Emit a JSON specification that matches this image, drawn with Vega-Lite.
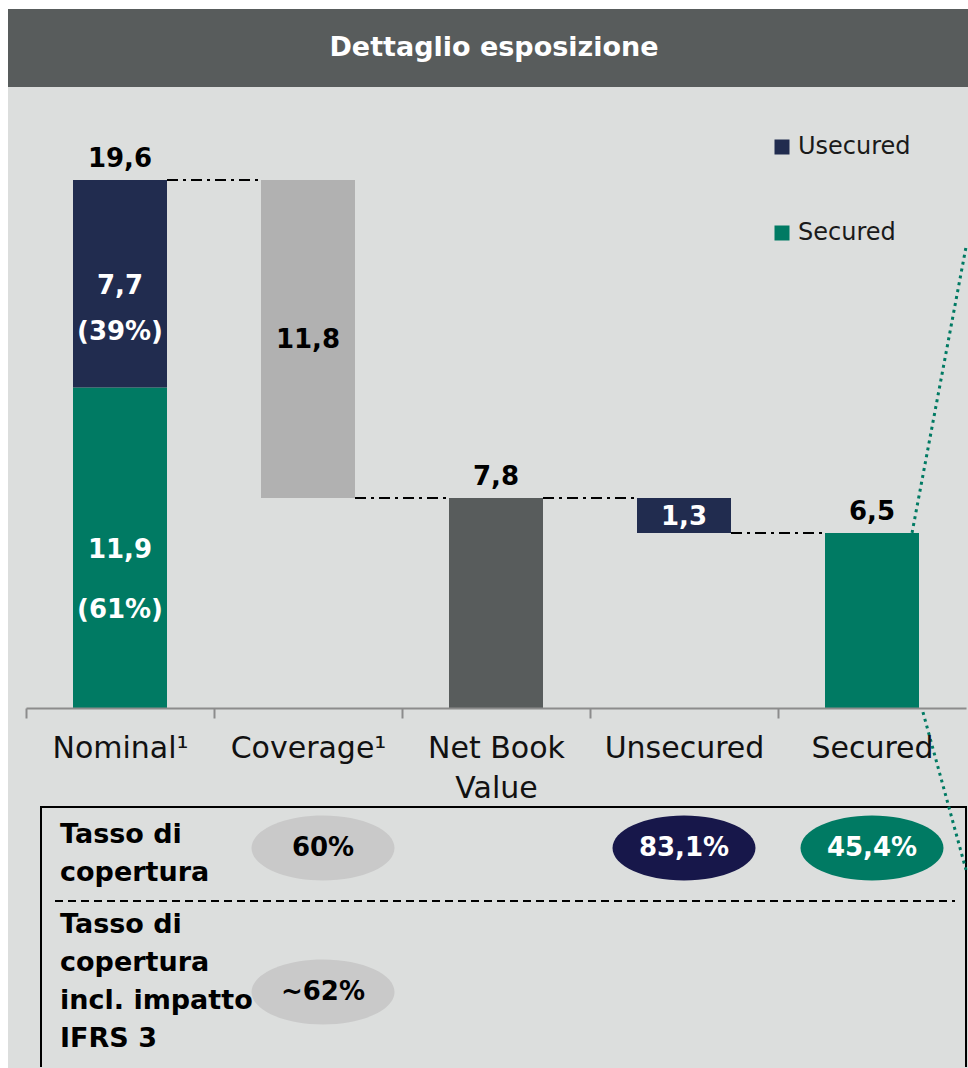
{
  "$schema": "https://vega.github.io/schema/vega-lite/v6.json",
  "background": "white",
  "padding": {"left": 8, "top": 9, "right": 0, "bottom": 0},
  "spacing": 0,
  "config": {"view": {"stroke": null}, "font": "DejaVu Sans"},
  "datasets": {
    "bars": [
      {"cat": "Nominal", "part": "Secured", "start": 0, "end": 11.9},
      {"cat": "Nominal", "part": "Unsecured", "start": 11.9, "end": 19.6},
      {"cat": "Coverage", "part": "Coverage", "start": 7.8, "end": 19.6},
      {"cat": "Net Book Value", "part": "Net Book Value", "start": 0, "end": 7.8},
      {"cat": "Unsecured", "part": "Unsecured", "start": 6.5, "end": 7.8},
      {"cat": "Secured", "part": "Secured", "start": 0, "end": 6.5}
    ],
    "totals": [
      {"cat": "Nominal", "total": 19.6, "text": "19,6"},
      {"cat": "Net Book Value", "total": 7.8, "text": "7,8"},
      {"cat": "Secured", "total": 6.5, "text": "6,5"}
    ],
    "inside": [
      {"cat": "Nominal", "part": "Unsecured", "at": 15.66, "text": "7,7"},
      {"cat": "Nominal", "part": "Unsecured", "at": 13.96, "text": "(39%)"},
      {"cat": "Nominal", "part": "Secured", "at": 5.86, "text": "11,9"},
      {"cat": "Nominal", "part": "Secured", "at": 3.64, "text": "(61%)"},
      {"cat": "Coverage", "part": "Coverage", "at": 13.66, "text": "11,8"},
      {"cat": "Unsecured", "part": "Unsecured", "at": 7.09, "text": "1,3"}
    ],
    "connectors": [
      {"from": "Nominal", "to": "Coverage", "level": 19.6},
      {"from": "Coverage", "to": "Net Book Value", "level": 7.8},
      {"from": "Net Book Value", "to": "Unsecured", "level": 7.8},
      {"from": "Unsecured", "to": "Secured", "level": 6.5}
    ],
    "rates": [
      {"row": "Tasso di copertura", "cat": "Coverage", "rate": "60%"},
      {"row": "Tasso di copertura", "cat": "Unsecured", "rate": "83,1%"},
      {"row": "Tasso di copertura", "cat": "Secured", "rate": "45,4%"},
      {"row": "Tasso di copertura incl. impatto IFRS 3", "cat": "Coverage", "rate": "~62%"}
    ],
    "rowLabels": [
      {"row": "Tasso di copertura", "label": "Tasso di\ncopertura"},
      {"row": "Tasso di copertura incl. impatto IFRS 3", "label": "Tasso di\ncopertura\nincl. impatto\nIFRS 3"}
    ]
  },
  "vconcat": [
    {
      "width": 960,
      "height": 78,
      "view": {"fill": "#585C5C", "stroke": null},
      "data": {"values": [{"heading": "Dettaglio esposizione"}]},
      "mark": {"type": "text", "font": "DejaVu Sans", "fontWeight": "bold", "fontSize": 27, "color": "white", "dx": 6, "align": "center", "baseline": "middle"},
      "encoding": {"text": {"field": "heading"}}
    },
    {
      "width": 960,
      "height": 621,
      "view": {"fill": "#DCDEDD", "stroke": null},
      "resolve": {"scale": {"y": "independent", "color": "independent"}},
      "layer": [
        {
          "layer": [
            {
              "data": {"values": [{"area": "below axis"}]},
              "mark": {"type": "rect", "fill": "#DCDEDD", "strokeWidth": 0, "xOffset": -18, "x2Offset": 2, "yOffset": -140, "y2Offset": 76},
              "encoding": {
                "x": {"datum": "Nominal", "bandPosition": 0},
                "x2": {"datum": "Secured", "bandPosition": 1},
                "y": {
                  "datum": "Tasso di copertura", "type": "nominal",
                  "scale": {"type": "point", "domain": ["Tasso di copertura", "Tasso di copertura incl. impatto IFRS 3"], "range": [761, 905], "padding": 0},
                  "axis": null
                },
                "y2": {"datum": "Tasso di copertura incl. impatto IFRS 3"}
              }
            },
            {
              "data": {"values": [{"edge": "top"}]},
              "mark": {"type": "rule", "color": "black", "strokeWidth": 2, "xOffset": 15, "yOffset": -41},
              "encoding": {
                "x": {"datum": "Nominal", "bandPosition": 0},
                "x2": {"datum": "Secured", "bandPosition": 1},
                "y": {"datum": "Tasso di copertura", "type": "nominal", "axis": null}
              }
            },
            {
              "data": {"values": [{"edge": "left"}]},
              "mark": {"type": "rule", "color": "black", "strokeWidth": 2, "xOffset": 15, "yOffset": -42, "y2Offset": 75},
              "encoding": {
                "x": {"datum": "Nominal", "bandPosition": 0},
                "y": {"datum": "Tasso di copertura", "type": "nominal", "axis": null},
                "y2": {"datum": "Tasso di copertura incl. impatto IFRS 3"}
              }
            },
            {
              "data": {"values": [{"edge": "right"}]},
              "mark": {"type": "rule", "color": "black", "strokeWidth": 2, "yOffset": -42, "y2Offset": 75},
              "encoding": {
                "x": {"datum": "Secured", "bandPosition": 1},
                "y": {"datum": "Tasso di copertura", "type": "nominal", "axis": null},
                "y2": {"datum": "Tasso di copertura incl. impatto IFRS 3"}
              }
            },
            {
              "data": {"values": [{"separator": "rows"}]},
              "mark": {"type": "rule", "color": "black", "strokeWidth": 2, "strokeDash": [8, 5], "xOffset": 29, "x2Offset": -11, "yOffset": 53},
              "encoding": {
                "x": {"datum": "Nominal", "bandPosition": 0},
                "x2": {"datum": "Secured", "bandPosition": 1},
                "y": {"datum": "Tasso di copertura", "type": "nominal", "axis": null}
              }
            },
            {
              "data": {"name": "rates"},
              "transform": [{"filter": "datum.cat == 'Coverage'"}],
              "mark": {"type": "point", "shape": "M-1,0C-1,-0.251,-0.5523,-0.4545,0,-0.4545C0.5523,-0.4545,1,-0.251,1,0C1,0.251,0.5523,0.4545,0,0.4545C-0.5523,0.4545,-1,0.251,-1,0Z", "size": 20449, "filled": true, "opacity": 1, "strokeWidth": 0, "xOffset": 15},
              "encoding": {
                "x": {"field": "cat", "type": "nominal"},
                "y": {"field": "row", "type": "nominal", "axis": null},
                "color": {"field": "cat", "type": "nominal", "scale": {"domain": ["Coverage", "Unsecured", "Secured"], "range": ["#C9C9C9", "#17174A", "#007A63"]}, "legend": null}
              }
            },
            {
              "data": {"name": "rates"},
              "transform": [{"filter": "datum.cat != 'Coverage'"}],
              "mark": {"type": "point", "shape": "M-1,0C-1,-0.251,-0.5523,-0.4545,0,-0.4545C0.5523,-0.4545,1,-0.251,1,0C1,0.251,0.5523,0.4545,0,0.4545C-0.5523,0.4545,-1,0.251,-1,0Z", "size": 20449, "filled": true, "opacity": 1, "strokeWidth": 0},
              "encoding": {
                "x": {"field": "cat", "type": "nominal"},
                "y": {"field": "row", "type": "nominal", "axis": null},
                "color": {"field": "cat", "type": "nominal", "legend": null}
              }
            },
            {
              "data": {"name": "rates"},
              "transform": [{"filter": "datum.cat == 'Coverage'"}],
              "mark": {"type": "text", "font": "DejaVu Sans", "fontWeight": "bold", "fontSize": 26, "color": "black", "baseline": "middle", "xOffset": 15},
              "encoding": {
                "x": {"field": "cat", "type": "nominal"},
                "y": {"field": "row", "type": "nominal", "axis": null},
                "text": {"field": "rate"}
              }
            },
            {
              "data": {"name": "rates"},
              "transform": [{"filter": "datum.cat != 'Coverage'"}],
              "mark": {"type": "text", "font": "DejaVu Sans", "fontWeight": "bold", "fontSize": 26, "color": "white", "baseline": "middle"},
              "encoding": {
                "x": {"field": "cat", "type": "nominal"},
                "y": {"field": "row", "type": "nominal", "axis": null},
                "text": {"field": "rate"}
              }
            },
            {
              "data": {"name": "rowLabels"},
              "transform": [{"filter": "datum.row == 'Tasso di copertura'"}],
              "mark": {"type": "text", "font": "DejaVu Sans", "fontWeight": "bold", "fontSize": 27, "color": "black", "align": "left", "baseline": "middle", "lineBreak": "\n", "lineHeight": 38, "xOffset": 34, "dy": -13},
              "encoding": {
                "x": {"datum": "Nominal", "bandPosition": 0},
                "y": {"field": "row", "type": "nominal", "axis": null},
                "text": {"field": "label"}
              }
            },
            {
              "data": {"name": "rowLabels"},
              "transform": [{"filter": "datum.row != 'Tasso di copertura'"}],
              "mark": {"type": "text", "font": "DejaVu Sans", "fontWeight": "bold", "fontSize": 27, "color": "black", "align": "left", "baseline": "middle", "lineBreak": "\n", "lineHeight": 38, "xOffset": 34, "dy": -67},
              "encoding": {
                "x": {"datum": "Nominal", "bandPosition": 0},
                "y": {"field": "row", "type": "nominal", "axis": null},
                "text": {"field": "label"}
              }
            }
          ]
        },
        {
          "layer": [
            {
              "data": {"name": "bars"},
              "mark": {"type": "bar", "width": {"band": 0.5}},
              "encoding": {
                "x": {
                  "field": "cat", "type": "nominal",
                  "scale": {"domain": ["Nominal", "Coverage", "Net Book Value", "Unsecured", "Secured"], "range": [18, 958], "paddingInner": 0, "paddingOuter": 0},
                  "axis": {
                    "title": null, "orient": "bottom", "zindex": 1, "grid": false,
                    "tickOffset": -94, "labelOffset": 94,
                    "domainColor": "#8C8C8C", "domainWidth": 2, "tickColor": "#8C8C8C", "tickWidth": 2, "tickSize": 10,
                    "labelFont": "DejaVu Sans", "labelFontSize": 30, "labelColor": "#111111", "labelPadding": 30,
                    "labelLineHeight": 40, "labelAngle": 0, "labelLimit": 0, "labelAlign": "center",
                    "labelExpr": "datum.label == 'Net Book Value' ? ['Net Book', 'Value'] : (datum.label == 'Nominal' || datum.label == 'Coverage') ? datum.label + '¹' : datum.label"
                  }
                },
                "y": {"field": "end", "type": "quantitative", "scale": {"domain": [0, 19.6], "range": [621, 93], "nice": false, "zero": false}, "axis": null},
                "y2": {"field": "start"},
                "color": {
                  "field": "part", "type": "nominal",
                  "scale": {"domain": ["Unsecured", "Secured", "Coverage", "Net Book Value"], "range": ["#212C4F", "#007A63", "#B1B1B1", "#585C5C"]},
                  "legend": {
                    "title": null, "orient": "none", "legendX": 762, "legendY": 48, "direction": "vertical",
                    "values": ["Unsecured", "Secured"],
                    "labelExpr": "datum.label == 'Unsecured' ? 'Usecured' : datum.label",
                    "symbolType": "square", "symbolSize": 225, "symbolStrokeWidth": 0, "symbolOpacity": 1,
                    "labelFont": "DejaVu Sans", "labelFontSize": 24, "labelColor": "#1A1A1A", "labelOffset": 4, "rowPadding": 62
                  }
                }
              }
            },
            {
              "data": {"name": "connectors"},
              "mark": {"type": "rule", "color": "black", "strokeWidth": 2, "strokeDash": [11, 5, 3, 5]},
              "encoding": {
                "x": {"field": "from", "type": "nominal", "bandPosition": 0.75},
                "x2": {"field": "to", "bandPosition": 0.25},
                "y": {"field": "level", "type": "quantitative", "axis": null}
              }
            },
            {
              "data": {"name": "totals"},
              "mark": {"type": "text", "font": "DejaVu Sans", "fontWeight": "bold", "fontSize": 26, "color": "black", "baseline": "alphabetic", "dy": -13},
              "encoding": {
                "x": {"field": "cat", "type": "nominal"},
                "y": {"field": "total", "type": "quantitative", "axis": null},
                "text": {"field": "text"}
              }
            },
            {
              "data": {"name": "inside"},
              "transform": [{"filter": "datum.part != 'Coverage'"}],
              "mark": {"type": "text", "font": "DejaVu Sans", "fontWeight": "bold", "fontSize": 26, "color": "white", "baseline": "middle"},
              "encoding": {
                "x": {"field": "cat", "type": "nominal"},
                "y": {"field": "at", "type": "quantitative", "axis": null},
                "text": {"field": "text"}
              }
            },
            {
              "data": {"name": "inside"},
              "transform": [{"filter": "datum.part == 'Coverage'"}],
              "mark": {"type": "text", "font": "DejaVu Sans", "fontWeight": "bold", "fontSize": 26, "color": "black", "baseline": "middle"},
              "encoding": {
                "x": {"field": "cat", "type": "nominal"},
                "y": {"field": "at", "type": "quantitative", "axis": null},
                "text": {"field": "text"}
              }
            },
            {
              "data": {"values": [{"callout": "upper"}]},
              "mark": {"type": "rule", "color": "#007A63", "strokeWidth": 3, "strokeDash": [3, 4]},
              "encoding": {
                "x": {"datum": "Secured", "bandPosition": 0.713},
                "x2": {"datum": "Secured", "bandPosition": 1},
                "y": {"datum": 6.5, "axis": null},
                "y2": {"datum": 17.11}
              }
            },
            {
              "data": {"values": [{"callout": "lower"}]},
              "mark": {"type": "rule", "color": "#007A63", "strokeWidth": 3, "strokeDash": [3, 4]},
              "encoding": {
                "x": {"datum": "Secured", "bandPosition": 0.771},
                "x2": {"datum": "Secured", "bandPosition": 1},
                "y": {"datum": -0.15, "axis": null},
                "y2": {"datum": -6.01}
              }
            }
          ]
        }
      ]
    }
  ]
}
